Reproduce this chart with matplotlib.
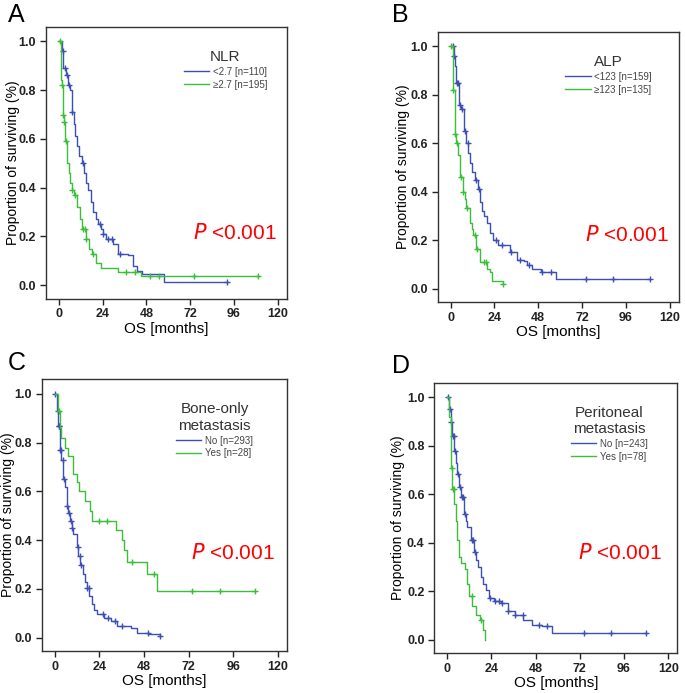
import numpy as np
import matplotlib
matplotlib.use("Agg")
import matplotlib.pyplot as plt

plt.rcParams['font.family'] = ['Liberation Sans', 'DejaVu Sans']

BLUE = '#3d4fb3'
GREEN = '#3bbf3b'

# ---- data (months, proportion surviving) ----
# A: NLR
a_blue_t = [0, 1.7, 2.6, 3.9, 5.0, 6.0, 7.3, 8.2, 9.1, 10, 11, 12.5, 13.8, 15, 16, 17.5, 19, 20.3, 21.5, 23, 24.5, 26, 29.6, 32.4, 38, 40.7, 43, 45.4, 57.5, 92]
a_blue_s = [1.0, 0.96, 0.89, 0.86, 0.82, 0.80, 0.71, 0.66, 0.61, 0.57, 0.53, 0.50, 0.46, 0.42, 0.39, 0.34, 0.30, 0.27, 0.25, 0.23, 0.21, 0.19, 0.17, 0.13, 0.125, 0.08, 0.06, 0.045, 0.014, 0.014]
a_blue_c = [2.2, 3.2, 4.5, 5.5, 7.5, 13.5, 22.5, 24.5, 27, 29, 33.5, 92]
a_green_t = [0, 1.1, 1.6, 2.2, 2.8, 3.5, 4.5, 5.4, 6.3, 7.2, 8.2, 10, 11.4, 12.8, 14.7, 16.6, 18.4, 20.3, 23, 32.4, 45, 109]
a_green_s = [1.0, 0.84, 0.82, 0.70, 0.67, 0.59, 0.50, 0.46, 0.42, 0.39, 0.37, 0.32, 0.27, 0.23, 0.19, 0.15, 0.13, 0.09, 0.07, 0.055, 0.04, 0.04]
a_green_c = [0.5, 2.0, 2.5, 3.0, 3.8, 7.5, 9.0, 13.5, 14.5, 15.0, 19, 37, 42, 50, 55, 74, 109]

# B: ALP
b_blue_t = [0, 1.8, 2.3, 2.8, 3.1, 4.4, 5.9, 7.2, 8.7, 9.6, 10.5, 12, 13.3, 15.1, 16, 17, 18.5, 19.8, 21.6, 23.4, 26, 32.7, 36.4, 40, 42, 44.7, 49.3, 57.6, 109]
b_blue_s = [1.0, 0.96, 0.92, 0.90, 0.85, 0.76, 0.74, 0.65, 0.60, 0.56, 0.52, 0.48, 0.45, 0.41, 0.36, 0.32, 0.30, 0.27, 0.23, 0.20, 0.18, 0.15, 0.12, 0.115, 0.10, 0.08, 0.07, 0.04, 0.04]
b_blue_c = [1.2, 2.0, 3.5, 4.0, 5.0, 6.5, 8.0, 9.5, 14, 15.5, 25, 28, 33, 38, 43, 50, 55, 74, 89, 109]
b_green_t = [0, 1.3, 2.2, 3.0, 4.1, 5.0, 6.8, 7.8, 8.7, 10.5, 11.5, 12.4, 14.2, 16, 19.8, 21.6, 22.5, 27, 29]
b_green_s = [1.0, 0.82, 0.64, 0.60, 0.55, 0.46, 0.40, 0.37, 0.335, 0.27, 0.245, 0.22, 0.165, 0.11, 0.08, 0.07, 0.034, 0.034, 0.02]
b_green_c = [0.3, 1.5, 2.5, 3.5, 6.0, 7.0, 9.0, 13.5, 14.5, 18.5, 19.5, 29]

# C: Bone-only metastasis
c_blue_t = [0, 1.3, 1.9, 2.7, 3.6, 4.5, 5.5, 6.4, 7.3, 8.2, 9.1, 10, 11.8, 12.7, 13.6, 15.1, 16.2, 17.3, 18.6, 20, 21.3, 22.7, 26.4, 30, 33.6, 41, 44.5, 50.9, 56.9]
c_blue_s = [1.0, 0.93, 0.87, 0.77, 0.73, 0.65, 0.62, 0.54, 0.51, 0.48, 0.45, 0.425, 0.37, 0.335, 0.30, 0.26, 0.23, 0.205, 0.17, 0.137, 0.115, 0.096, 0.082, 0.068, 0.048, 0.041, 0.02, 0.014, 0.007]
c_blue_c = [0.3, 1.5, 2.0, 2.5, 3.0, 3.5, 4.2, 5.0, 6.8, 7.5, 8.5, 9.5, 12.5, 13.5, 14.2, 17.5, 18.5, 26, 28.5, 32.5, 36, 50, 56.9]
c_green_t = [0, 1.8, 2.7, 3.3, 5.5, 7.3, 9.6, 10, 12.2, 13.3, 16.4, 19, 20, 32.7, 36, 37, 39, 49.6, 55, 108]
c_green_s = [1.0, 0.93, 0.86, 0.82, 0.78, 0.745, 0.71, 0.67, 0.64, 0.60, 0.56, 0.52, 0.48, 0.44, 0.40, 0.36, 0.31, 0.26, 0.19, 0.19]
c_green_c = [2.5, 24, 28, 41.7, 53.5, 74, 89, 108]

# D: Peritoneal metastasis
d_blue_t = [0, 1.1, 1.8, 2.7, 3.7, 4.6, 5.5, 6.4, 7.7, 9.2, 10.1, 11, 12.8, 14.7, 15.6, 16.5, 18.3, 19.6, 21, 22.9, 25.6, 29.3, 33, 36.6, 41.2, 45.8, 51.3, 56.8, 108]
d_blue_s = [1.0, 0.95, 0.90, 0.84, 0.78, 0.73, 0.685, 0.63, 0.59, 0.52, 0.49, 0.465, 0.41, 0.36, 0.33, 0.30, 0.26, 0.23, 0.205, 0.17, 0.16, 0.15, 0.12, 0.10, 0.08, 0.06, 0.055, 0.027, 0.027]
d_blue_c = [0.5, 1.5, 2.2, 3.0, 3.5, 4.2, 6.0, 7.2, 7.8, 8.5, 9.5, 13.5, 14.0, 15.0, 23, 26, 28, 30, 33, 37, 41, 50, 54, 74, 89, 108]
d_green_t = [0, 0.8, 1.8, 2.2, 2.7, 3.7, 4.6, 5.5, 6.4, 7.7, 9.5, 10.6, 11.9, 13.7, 15.6, 18, 19.2, 20.5]
d_green_s = [1.0, 0.92, 0.82, 0.71, 0.62, 0.56, 0.49, 0.41, 0.34, 0.315, 0.29, 0.23, 0.18, 0.14, 0.10, 0.08, 0.04, 0.0]
d_green_c = [2.5, 3.0, 3.5, 13.5, 18.5]

panels = [
    ('A', 'NLR', ['<2.7 [n=110]', '\u22652.7 [n=195]'],
     (a_blue_t, a_blue_s, a_blue_c), (a_green_t, a_green_s, a_green_c),
     [0.067, 0.569, 0.352, 0.3925], (0.61, 0.24), (8, 3), -0.108, 0.946),
    ('B', 'ALP', ['<123 [n=159]', '\u2265123 [n=135]'],
     (b_blue_t, b_blue_s, b_blue_c), (b_green_t, b_green_s, b_green_c),
     [0.639, 0.564, 0.352, 0.39], (0.61, 0.25), (392, 3), -0.116, 0.917),
    ('C', 'Bone-only\nmetastasis', ['No [n=293]', 'Yes [n=28]'],
     (c_blue_t, c_blue_s, c_blue_c), (c_green_t, c_green_s, c_green_c),
     [0.061, 0.0606, 0.358, 0.392], (0.61, 0.36), (8, 351), -0.108, 0.89),
    ('D', 'Peritoneal\nmetastasis', ['No [n=243]', 'Yes [n=78]'],
     (d_blue_t, d_blue_s, d_blue_c), (d_green_t, d_green_s, d_green_c),
     [0.634, 0.0577, 0.355, 0.39], (0.59, 0.37), (392, 354), -0.12, 0.905),
]


def surv_at(t, s, tc):
    idx = np.searchsorted(t, tc, side='right') - 1
    return np.array(s)[idx]


W, H = 685, 693
fig = plt.figure(figsize=(W / 100, H / 100), dpi=100)

for letter, title, labels, blue, green, pos, ppos, lpos, ylx, legx in panels:
    ax = fig.add_axes(pos)
    for (t, s, c), col, lab in [(blue, BLUE, labels[0]), (green, GREEN, labels[1])]:
        ax.step(t, s, where='post', color=col, lw=1.0, label=lab)
        ax.plot(c, surv_at(t, s, c), ls='none', marker='+', ms=5, mew=1.0, color=col)

    ax.set_xlim(-7, 125)
    ax.set_ylim(-0.055, 1.06)
    ax.set_xticks([0, 24, 48, 72, 96, 120])
    ax.set_yticks([0.0, 0.2, 0.4, 0.6, 0.8, 1.0])
    ax.set_yticklabels(['0.0', '0.2', '0.4', '0.6', '0.8', '1.0'])
    ax.tick_params(direction='out', length=4, width=1, labelsize=9, colors='#222222', pad=3)
    for lbl in ax.get_xticklabels() + ax.get_yticklabels():
        lbl.set_fontweight('bold')
    for sp in ax.spines.values():
        sp.set_color('#333333')
        sp.set_linewidth(1.0)
    ax.set_xlabel('OS [months]', fontsize=11, labelpad=1)
    ax.set_ylabel('Proportion of surviving (%)', fontsize=10)
    ax.yaxis.set_label_coords(ylx, 0.5)

    leg = ax.legend(title=title, loc='upper right', bbox_to_anchor=(legx, 0.94),
                    frameon=False, fontsize=7, title_fontsize=11,
                    handlelength=2.6, handletextpad=0.4, labelspacing=0.3,
                    borderpad=0.2)
    leg.get_title().set_multialignment('center')
    leg.get_title().set_color('#333333')
    for txt in leg.get_texts():
        txt.set_color('#444444')

    ax.text(ppos[0], ppos[1], r'$\it{P}$ <0.001', transform=ax.transAxes,
            color='red', fontsize=15, va='center', ha='left')

    fig.text(lpos[0] / W, 1 - lpos[1] / H, letter, fontsize=18, ha='left', va='top')

fig.savefig('out.png', dpi=100)
